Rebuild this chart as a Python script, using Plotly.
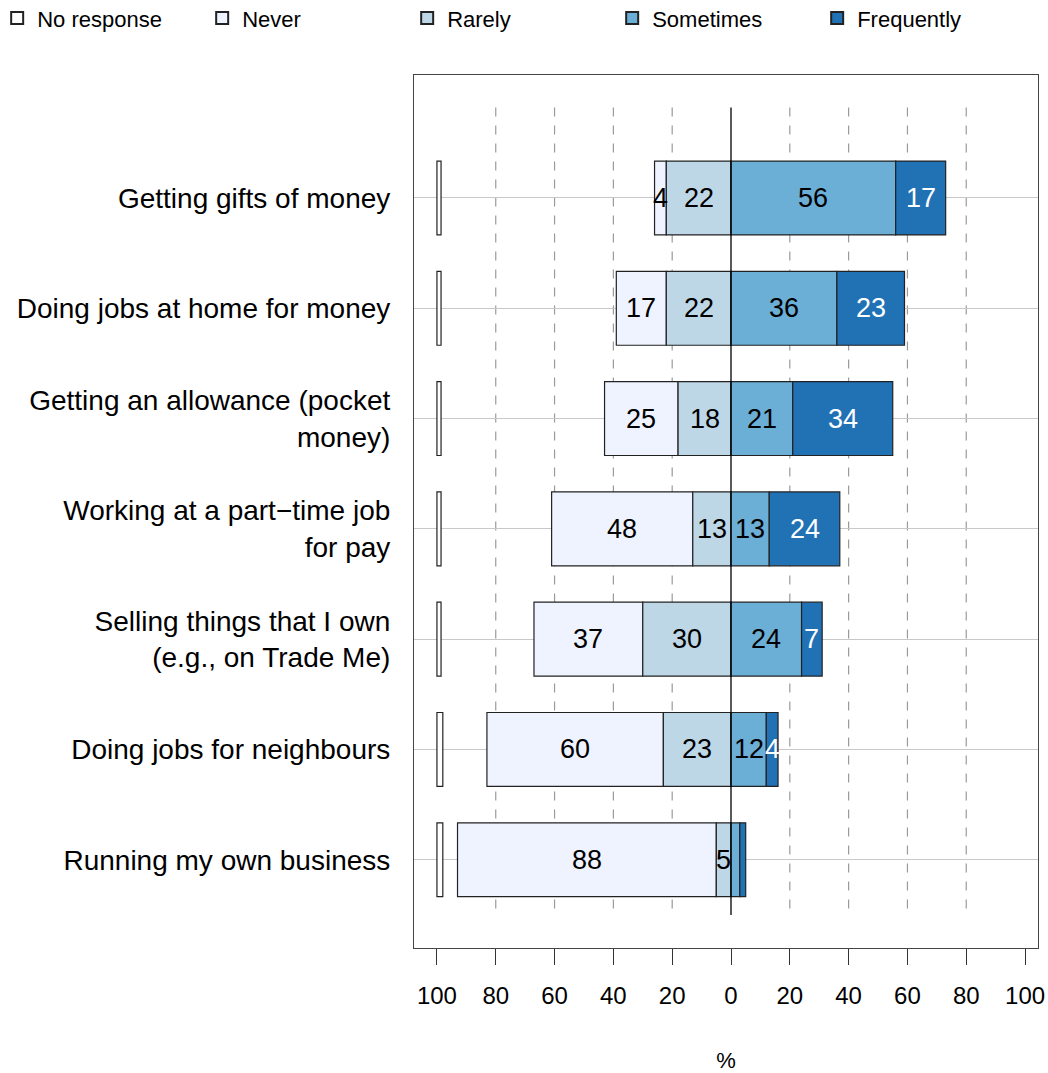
import plotly.graph_objects as go

categories = [
    "Getting gifts of money",
    "Doing jobs at home for money",
    "Getting an allowance (pocket<br>money)",
    "Working at a part\u2212time job<br>for pay",
    "Selling things that I own<br>(e.g., on Trade Me)",
    "Doing jobs for neighbours",
    "Running my own business",
]
no_response = [1.4, 1.4, 1.4, 1.4, 1.4, 2, 2]
never = [4, 17, 25, 48, 37, 60, 88]
rarely = [22, 22, 18, 13, 30, 23, 5]
sometimes = [56, 36, 21, 13, 24, 12, 3]
frequently = [17, 23, 34, 24, 7, 4, 2]

tick_vals = [-100, -80, -60, -40, -20, 0, 20, 40, 60, 80, 100]
grid_vals = [-80, -60, -40, -20, 20, 40, 60, 80]

colors = {
    "No response": "#FFFFFF",
    "Never": "#EFF3FF",
    "Rarely": "#BDD7E7",
    "Sometimes": "#6BAED6",
    "Frequently": "#2171B5",
}
text_colors = {"Never": "black", "Rarely": "black", "Sometimes": "black", "Frequently": "white"}

FONT = "Liberation Sans, Arial, sans-serif"
y = list(range(len(categories)))
bw = 0.67

series = [
    ("No response", no_response, [-100] * len(y)),
    ("Never", never, [-(a + b) for a, b in zip(never, rarely)]),
    ("Rarely", rarely, [-b for b in rarely]),
    ("Sometimes", sometimes, [0] * len(y)),
    ("Frequently", frequently, list(sometimes)),
]

fig = go.Figure()
annotations = []
for name, vals, base in series:
    fig.add_trace(go.Bar(
        name=name, y=y, x=vals, base=base, orientation="h", width=bw,
        marker=dict(color=colors[name], line=dict(color="#222222", width=1.2)),
        hoverinfo="x+name",
    ))
    if name != "No response":
        for yi, v, b in zip(y, vals, base):
            if v >= 4:
                annotations.append(dict(
                    x=b + v / 2, y=yi, xref="x", yref="y", text=str(v), showarrow=False,
                    font=dict(family=FONT, size=27, color=text_colors[name]),
                ))

shapes = []
for g in grid_vals:
    shapes.append(dict(type="line", xref="x", yref="y", x0=g, x1=g, y0=-0.82, y1=6.5,
                       line=dict(color="#9A9A9A", width=1.2, dash="dash"), layer="below"))
shapes.append(dict(type="line", xref="x", yref="y", x0=0, x1=0, y0=-0.82, y1=6.5,
                   line=dict(color="black", width=1.3), layer="above"))

fig.update_layout(
    width=1048, height=1073,
    margin=dict(l=414, r=10, t=75, b=125, autoexpand=False),
    barmode="overlay",
    plot_bgcolor="white", paper_bgcolor="white",
    font=dict(family=FONT, color="black"),
    shapes=shapes,
    annotations=annotations,
    showlegend=True,
    legend=dict(
        orientation="h", xref="paper", yref="paper", x=-0.668, y=1.089,
        xanchor="left", yanchor="top", font=dict(size=22, family=FONT),
        entrywidth=160, entrywidthmode="pixels", traceorder="normal",
        itemsizing="constant", bgcolor="rgba(0,0,0,0)",
    ),
    xaxis=dict(
        range=[-107.8, 104.4], tickvals=tick_vals, ticktext=[str(abs(v)) for v in tick_vals],
        ticks="outside", ticklen=16, tickcolor="#333", tickwidth=1.2,
        tickfont=dict(size=24, family=FONT), ticklabelstandoff=10,
        showgrid=False, zeroline=False,
        showline=True, mirror=True, linecolor="#444", linewidth=1.2,
        title=dict(text="%", font=dict(size=22, family=FONT), standoff=44),
    ),
    yaxis=dict(
        range=[6.8, -1.115], tickvals=y, ticktext=categories,
        tickfont=dict(size=28, family=FONT), ticks="", ticklabelstandoff=17,
        showgrid=True, gridcolor="#C8C8C8", gridwidth=1, zeroline=False,
        showline=True, mirror=True, linecolor="#444", linewidth=1.2,
    ),
)

fig.write_html(
    "out.html",
    config={"displayModeBar": False},
    post_script="document.body.style.margin='0px';document.body.style.overflow='hidden';",
)
